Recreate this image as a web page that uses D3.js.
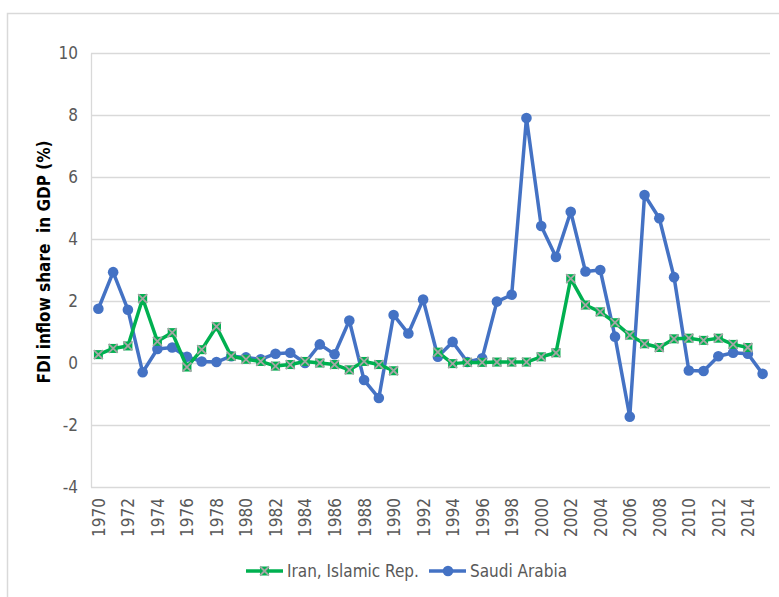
<!DOCTYPE html>
<html>
<head>
<meta charset="utf-8">
<script src="https://d3js.org/d3.v7.min.js"></script>
<style>
  body { margin: 0; background: #fff; }
  svg text { font-family: "Liberation Sans Narrow", "DejaVu Sans Condensed", "Noto Sans", sans-serif; }
</style>
</head>
<body>
<svg width="779" height="597"></svg>
<script>
// years on the category axis
var years = d3.range(1970, 2016);
var tickYears = d3.range(1970, 2015, 2);
var yTicks = [-4, -2, 0, 2, 4, 6, 8, 10];

// FDI inflow share in GDP (%)
var iran = [0.27, 0.47, 0.55, 2.08, 0.7, 0.98, -0.13, 0.43, 1.17, 0.22,
            0.12, 0.05, -0.1, -0.05, 0.05, 0.0, -0.05, -0.22, 0.05, -0.05,
            -0.25, null, null, 0.35, -0.02, 0.02, 0.02, 0.03, 0.03, 0.03,
            0.2, 0.33, 2.72, 1.87, 1.65, 1.3, 0.9, 0.62, 0.5, 0.78,
            0.8, 0.73, 0.8, 0.6, 0.5, null];
var saudi = [1.75, 2.93, 1.72, -0.3, 0.45, 0.5, 0.2, 0.05, 0.03, 0.22,
             0.18, 0.12, 0.3, 0.33, 0.0, 0.6, 0.28, 1.37, -0.55, -1.13,
             1.55, 0.95, 2.05, 0.2, 0.68, 0.03, 0.15, 1.98, 2.2, 7.9,
             4.42, 3.42, 4.88, 2.95, 3.0, 0.85, -1.73, 5.42, 4.67, 2.77,
             -0.24, -0.26, 0.22, 0.33, 0.3, -0.35];

var svg = d3.select("svg");
var grey = "#d9d9d9";
var textGrey = "#595959";
var blue = "#4472c4", green = "#00b050";

// chart frame
svg.append("rect")
  .attr("x", 7.5).attr("y", 13.5)
  .attr("width", 800).attr("height", 600)
  .attr("fill", "none").attr("stroke", grey).attr("stroke-width", 1.5);

var x = d3.scalePoint().domain(years).range([91, 770]).padding(0.5);
var y = d3.scaleLinear().domain([-4, 10]).range([487, 53]);

// horizontal gridlines
svg.append("g")
  .selectAll("line")
  .data(yTicks)
  .join("line")
  .attr("x1", 91).attr("x2", 770)
  .attr("y1", function(d) { return Math.round(y(d)) + 0.5; })
  .attr("y2", function(d) { return Math.round(y(d)) + 0.5; })
  .attr("stroke", grey).attr("stroke-width", 1.3);

// y axis (plain hyphen for negatives, as in the original)
var yAxis = svg.append("g")
  .attr("transform", "translate(91,0)")
  .call(d3.axisLeft(y).tickValues(yTicks).tickSize(0).tickPadding(13)
    .tickFormat(function(d) { return String(d); }));
yAxis.select(".domain").attr("stroke", grey).attr("stroke-width", 1.3);
yAxis.selectAll("text").attr("fill", textGrey).style("font-size", "17px");

// x axis labels, rotated
var xAxis = svg.append("g")
  .attr("transform", "translate(0,487)")
  .call(d3.axisBottom(x).tickValues(tickYears).tickSize(0));
xAxis.select(".domain").remove();
xAxis.selectAll("text")
  .attr("fill", textGrey).style("font-size", "17px")
  .attr("transform", "rotate(-90)")
  .attr("x", -11).attr("y", 0).attr("dy", "0.35em")
  .attr("text-anchor", "end");

// y axis title
svg.append("text")
  .attr("transform", "translate(50,262) rotate(-90)")
  .attr("text-anchor", "middle")
  .style("font-size", "17px").style("font-weight", "bold")
  .style("white-space", "pre")
  .attr("fill", "#000")
  .text("FDI inflow share  in GDP (%)");

var line = d3.line()
  .defined(function(d) { return d[1] != null; })
  .x(function(d) { return x(d[0]); })
  .y(function(d) { return y(d[1]); });

function pairs(vals) {
  return years.map(function(yr, i) { return [yr, vals[i]]; });
}

function crossMarker(g, cx, cy) {
  var s = 4.5;
  g.append("rect")
    .attr("x", cx - s).attr("y", cy - s)
    .attr("width", 2 * s).attr("height", 2 * s)
    .attr("fill", green);
  g.append("path")
    .attr("d", "M" + (cx - s) + "," + (cy - s) + "L" + (cx + s) + "," + (cy + s) +
               "M" + (cx + s) + "," + (cy - s) + "L" + (cx - s) + "," + (cy + s))
    .attr("stroke", "#a5a5a5").attr("stroke-width", 1.8);
}

// Saudi Arabia
var saudiPts = pairs(saudi);
svg.append("path")
  .datum(saudiPts)
  .attr("d", line)
  .attr("fill", "none").attr("stroke", blue)
  .attr("stroke-width", 3.5).attr("stroke-linejoin", "round");
svg.append("g").selectAll("circle")
  .data(saudiPts.filter(function(d) { return d[1] != null; }))
  .join("circle")
  .attr("cx", function(d) { return x(d[0]); })
  .attr("cy", function(d) { return y(d[1]); })
  .attr("r", 5.3)
  .attr("fill", blue);

// Iran
var iranPts = pairs(iran);
svg.append("path")
  .datum(iranPts)
  .attr("d", line)
  .attr("fill", "none").attr("stroke", green)
  .attr("stroke-width", 3.5).attr("stroke-linejoin", "round");
var iranMarks = svg.append("g");
iranPts.filter(function(d) { return d[1] != null; }).forEach(function(d) {
  crossMarker(iranMarks, x(d[0]), y(d[1]));
});

// legend
var leg = svg.append("g");
leg.append("line").attr("x1", 246).attr("x2", 283).attr("y1", 571).attr("y2", 571)
  .attr("stroke", green).attr("stroke-width", 3.5);
crossMarker(leg, 264.5, 571);
leg.append("text").attr("x", 287).attr("y", 577)
  .attr("fill", textGrey).style("font-size", "17px")
  .text("Iran, Islamic Rep.");
leg.append("line").attr("x1", 429).attr("x2", 466).attr("y1", 571).attr("y2", 571)
  .attr("stroke", blue).attr("stroke-width", 3.5);
leg.append("circle").attr("cx", 448).attr("cy", 571).attr("r", 5.3).attr("fill", blue);
leg.append("text").attr("x", 470).attr("y", 577)
  .attr("fill", textGrey).style("font-size", "17px")
  .text("Saudi Arabia");
</script>
</body>
</html>
